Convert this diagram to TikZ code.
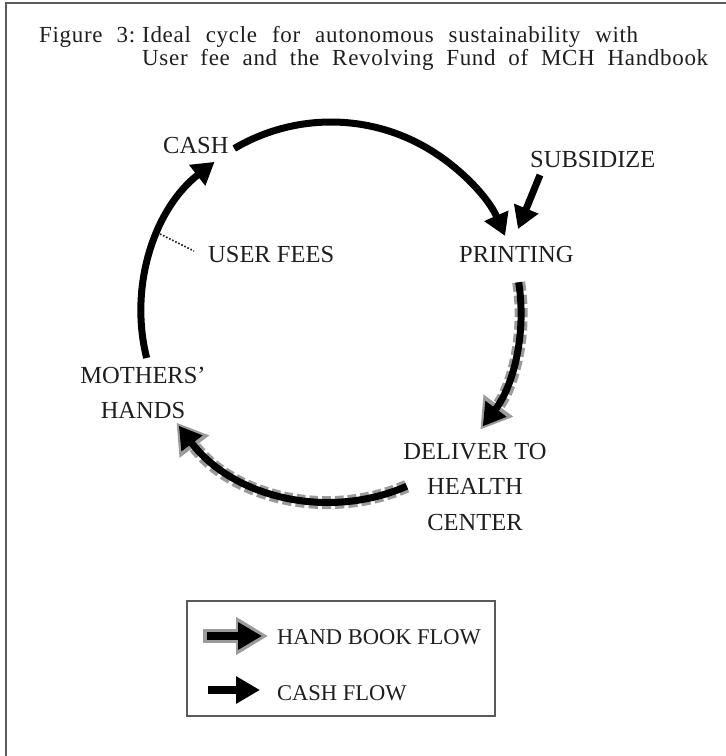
\documentclass[tikz,border=0pt]{standalone}
\usepackage{fontspec}
\setmainfont{Liberation Serif}
\usetikzlibrary{arrows.meta}
\definecolor{halocol}{RGB}{155,155,155}
\definecolor{framecol}{RGB}{90,90,90}
\definecolor{inkcol}{RGB}{30,30,30}
\begin{document}
\begin{tikzpicture}[x=1pt,y=-1pt,
  titletext/.style={font=\fontsize{23}{26}\selectfont\addfontfeatures{LetterSpace=3}, inner sep=0pt, text=inkcol},
  lbl/.style={font=\fontsize{24.5}{35.5}\selectfont, inner sep=0pt, text=inkcol, align=center},
  leglbl/.style={font=\fontsize{22.5}{27}\selectfont, inner sep=0pt, text=inkcol},
  cash/.style={line width=7pt, draw=black, -{Triangle[length=22pt,width=25pt]}},
  halo/.style={line width=13pt, draw=halocol, dash pattern=on 9pt off 4pt,
    -{Triangle[length=30pt,width=35pt]}, shorten >=-4pt, xshift=-2pt, yshift=-2pt},
  legcash/.style={line width=8pt, draw=black, -{Triangle[length=24pt,width=26pt]}},
  leghalo/.style={line width=14pt, draw=halocol, -{Triangle[length=32pt,width=36pt]}},
]
\useasboundingbox (0,0) rectangle (726,756);
% outer frame (only left and top edges are inside the picture)
\draw[framecol, line width=2.5pt] (6,760) -- (6,3) -- (730,3);

% title
\node[titletext, anchor=base west] (fig) at (39,42) {\makebox[96pt][s]{Figure 3:}};
\node[titletext, anchor=base west] (t1) at (142,42) {\makebox[496pt][s]{Ideal cycle for autonomous sustainability with}};
\node[titletext, anchor=base west] (t2) at (142,65) {\makebox[566pt][s]{User fee and the Revolving Fund of MCH Handbook}};

% labels
\node[lbl, anchor=base west] (cashlbl) at (163,153) {CASH};
\node[lbl, anchor=base west] (fees) at (208,262) {USER FEES};
\node[lbl, anchor=base west] (print) at (459,262) {PRINTING};
\node[lbl, anchor=base west] (subs) at (530,167) {SUBSIDIZE};
\node[lbl] (mothers) at (143,393) {MOTHERS'\\HANDS};
\node[lbl] (deliver) at (475,487) {DELIVER TO\\HEALTH\\CENTER};

% cycle geometry
\coordinate (c) at (331,312);
\path (c) ++(-120.6:190) coordinate (topS);
\path (c) ++(-9:190) coordinate (rightS);
\path (c) ++(66.5:190) coordinate (botS);
\path (c) ++(166:190) coordinate (leftS);

% cash flow arcs
\draw[cash] (topS) arc[start angle=-120.6, end angle=-23.6, radius=190];
\draw[cash] (leftS) arc[start angle=166, end angle=232.2, radius=190];

% hand book flow arcs (grey halo under black line)
\draw[halo] (rightS) arc[start angle=-9, end angle=37, radius=190];
\draw[cash] (rightS) arc[start angle=-9, end angle=37, radius=190];
\draw[halo] (botS) arc[start angle=66.5, end angle=143.2, radius=190];
\draw[cash] (botS) arc[start angle=66.5, end angle=143.2, radius=190];

% subsidize arrow
\coordinate (subA) at (540,175);
\coordinate (subB) at (518,229);
\draw[cash] (subA) -- (subB);

% user fees pointer
\coordinate (feeA) at (160,234);
\coordinate (feeB) at (194,251);
\draw[inkcol, line width=1.6pt, dash pattern=on 1.6pt off 1.8pt] (feeA) -- (feeB);

% legend
\node[draw=framecol, line width=1.3pt, minimum width=308pt, minimum height=115pt, inner sep=0pt] (legend) at (341,658.5) {};
\node[leglbl, anchor=base west] (hbtext) at (277,644) {HAND BOOK FLOW};
\node[leglbl, anchor=base west] (cftext) at (277,700) {CASH FLOW};
\coordinate (hbA) at (203,636);
\coordinate (hbB) at (268,636);
\coordinate (hbC) at (207,636);
\coordinate (hbD) at (262,636);
\draw[leghalo] (hbA) -- (hbB);
\draw[legcash] (hbC) -- (hbD);
\coordinate (cfA) at (208,690);
\coordinate (cfB) at (260,690);
\draw[legcash] (cfA) -- (cfB);
\end{tikzpicture}
\end{document}
